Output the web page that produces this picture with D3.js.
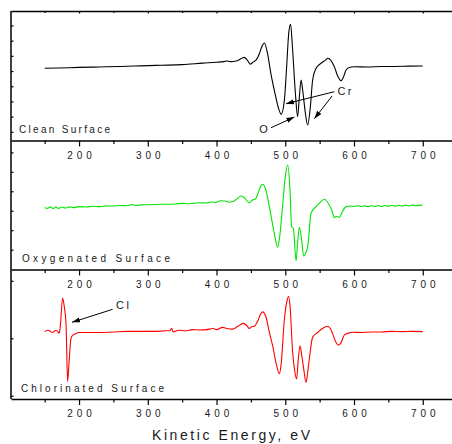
<!DOCTYPE html>
<html><head><meta charset="utf-8">
<script src="https://cdn.jsdelivr.net/npm/d3@7"></script>
<style>
body{margin:0;background:#fff}
svg{display:block}
text{font-family:"Liberation Sans",Arial,Helvetica,sans-serif;fill:#1a1a1a}
</style>
</head><body><div id="chart"></div>
<script>
// ---------- DATA ----------
const panelNames = ["Clean Surface", "Oxygenated Surface", "Chlorinated Surface"];
const seriesColors = ["#000000", "#00e600", "#ff0000"];
const xTickLabels = [200, 300, 400, 500, 600, 700];
const xMinorTicks = [150, 250, 350, 450, 550, 650, 750];
const xTitle = "Kinetic Energy, eV";

// Clean surface (black)
const energyClean = [150,170,200,230,260,290,320,350,380,400,410,415,420,430,436,440,445,449,453,458,462,466,469.6,474,479,484,491,494,498.7,502,505,507.7,510.7,514.7,518,520.5,523,525.3,529.2,532.6,536.5,539.8,544.8,552,558,562,566,571.4,576,581,585,588.4,594,600,620,640,660,680,700];
const intensityClean = [0.18,0.20,0.24,0.27,0.30,0.34,0.38,0.42,0.52,0.58,0.62,0.66,0.62,0.68,0.82,0.90,0.70,0.45,0.58,0.75,1.10,1.62,1.84,1.20,-0.15,-1.25,-2.57,-2.85,-1.91,0.28,2.48,3.07,1.38,-1.45,-3.00,-1.69,-0.59,-1.25,-2.76,-3.55,-2.35,-0.59,0.18,0.51,0.70,0.84,0.72,0.28,-0.30,-0.64,-0.35,0.07,0.25,0.28,0.27,0.30,0.30,0.32,0.33];

// Oxygenated surface (green)
const energyOxy = [150,154,158,162,166,170,175,180,186,192,200,210,220,230,240,250,260,270,278,282,290,300,320,340,350,360,375,385,392,398,406,412,418,424,430,435.6,440,447.7,452,456,460,464,467,471,476.8,484,489,492,496,500,503.5,506.9,509.3,511.8,515.7,518,520.5,523.8,526.8,532.6,537.5,544.8,550,556.9,564,568,571.4,574,576.2,578.7,583,588.4,595,600,605,610,615,620,625,630,635,640,645,650,655,660,665,670,675,680,685,690,695,700];
const intensityOxy = [0.17,0.12,0.20,0.11,0.19,0.12,0.19,0.14,0.20,0.16,0.21,0.19,0.23,0.21,0.25,0.24,0.27,0.26,0.32,0.26,0.30,0.31,0.33,0.35,0.38,0.36,0.41,0.40,0.45,0.42,0.51,0.50,0.44,0.47,0.62,0.76,0.68,0.41,0.55,0.59,0.85,1.25,1.36,1.15,0.21,-1.16,-1.88,-1.30,0.21,1.75,2.35,1.06,-0.82,-0.90,-2.57,-1.60,-0.85,-1.51,-2.33,-1.85,-0.13,0.21,0.40,0.59,0.29,0.00,-0.36,-0.28,-0.31,-0.34,-0.05,0.21,0.24,0.22,0.26,0.22,0.25,0.21,0.26,0.22,0.27,0.22,0.27,0.23,0.28,0.23,0.28,0.24,0.29,0.25,0.29,0.26,0.29,0.28];

// Chlorinated surface (red)
const energyCl = [150,154,157,161.5,165,167.4,171.3,173,176.1,178.5,181,183.4,185,188.3,190.6,195,200,215,230,250,270,290,310,326,332,334.7,337,345,355,365,375,385,395,400,409,415,423.5,430,439,444,447.7,451,455,460,464,467,472,476,481.6,487,491.4,494,498.7,502,504.9,507,510.7,513.5,516.6,519,521.5,524,527,530.2,532.5,535,539.8,547.1,554,561.7,566,569,573,577.3,581,586,592,598,610,625,640,655,670,685,700];
const intensityCl = [0.115,0.14,0.13,0.097,0.13,0.135,0.087,0.25,0.70,0.55,0.26,-0.755,-0.50,0.00,0.05,0.08,0.10,0.10,0.10,0.11,0.12,0.12,0.12,0.13,0.13,0.175,0.11,0.14,0.13,0.15,0.145,0.15,0.17,0.15,0.19,0.17,0.16,0.20,0.26,0.22,0.17,0.20,0.21,0.30,0.42,0.46,0.37,0.15,-0.13,-0.45,-0.62,-0.45,0.33,0.62,0.73,0.55,-0.24,-0.55,-0.71,-0.35,-0.13,-0.30,-0.55,-0.77,-0.60,-0.36,0.02,0.10,0.17,0.21,0.16,0.076,-0.05,-0.117,-0.08,0.06,0.09,0.104,0.10,0.11,0.11,0.12,0.115,0.12,0.115];

// y-domains (arbitrary units) and left tick values per panel
const yDomains = [[-4.57, 3.95], [-3.02, 3.61], [-1.057, 1.197]];
const yTicks = [[-4,-3,-2,-1,0,1,2,3], [-2,-1,0,1,2,3], [-1,0,1]];

// annotations (data coordinates) : panel, label, text position, arrows
const annotLabels = [
  {panel:0, text:"Cr", e:575.8, v:-1.58, len:14},
  {panel:0, text:"O",  e:462.3, v:-4.05, len:8},
  {panel:2, text:"Cl", e:253.8, v:0.504, len:13}
];
const annotArrows = [
  {panel:0, e0:571.4, v0:-1.36, e1:501.1, v1:-2.15},
  {panel:0, e0:568.1, v0:-1.64, e1:542.3, v1:-3.14},
  {panel:0, e0:479.3, v0:-3.73, e1:513.2, v1:-3.03},
  {panel:2, e0:248.8, v0:0.504, e1:189.8, v1:0.278}
];

// ---------- LAYOUT ----------
const W = 452, H = 444;
const left = 11;
const panelTops = [11, 140.5, 269.5];
const panelBottoms = [140.5, 269.5, 399];

const svg = d3.select("#chart").append("svg").attr("width", W).attr("height", H);

const x = d3.scaleLinear().domain([101, 750]).range([left, left + 649 * 0.6874]);

const defs = svg.append("defs");
defs.append("marker").attr("id","ah").attr("markerUnits","userSpaceOnUse")
  .attr("markerWidth",10).attr("markerHeight",8).attr("refX",8).attr("refY",3)
  .attr("orient","auto").append("path").attr("d","M0,0.4 L8,3 L0,5.6 Z").attr("fill","#000");

const seriesE = [energyClean, energyOxy, energyCl];
const seriesV = [intensityClean, intensityOxy, intensityCl];
const yScales = panelTops.map((t,i) => d3.scaleLinear().domain(yDomains[i]).range([panelBottoms[i], t]));

// curves
seriesE.forEach((es, i) => {
  const pts = es.map((e, j) => [e, seriesV[i][j]]);
  const line = d3.line().x(d => x(d[0])).y(d => yScales[i](d[1])).curve(d3.curveMonotoneX);
  svg.append("path").datum(pts).attr("d", line)
    .attr("fill","none").attr("stroke", seriesColors[i]).attr("stroke-width", 1.1)
    .attr("stroke-linejoin","round");
});

// horizontal axes: top line and panel bottoms
const axisYs = [panelTops[0], ...panelBottoms];
axisYs.forEach((yy, k) => {
  const g = svg.append("g").attr("transform", `translate(0,${yy})`);
  const isTop = k === 0;
  const minor = d3.axisBottom(x).tickValues(xMinorTicks).tickSize(isTop ? 2 : 3.5).tickSizeOuter(0).tickFormat("");
  const major = d3.axisBottom(x).tickValues(xTickLabels).tickSize(isTop ? 2.5 : 6).tickSizeOuter(0);
  const gm = g.append("g").call(minor);
  gm.select(".domain").remove();
  gm.selectAll("line").attr("stroke","#000").attr("stroke-width",1.2);
  const gM = g.append("g").call(major);
  gM.select(".domain").attr("stroke","#000").attr("stroke-width",1.5);
  gM.selectAll("line").attr("stroke","#000").attr("stroke-width",1.2);
  const txt = gM.selectAll("text");
  if (isTop) txt.remove();
  else txt.attr("y", 18).attr("dy", 0).attr("font-size", 10)
      .attr("font-family", '"Liberation Sans", Arial, sans-serif').attr("fill","#1a1a1a")
      .attr("textLength", 24.5).attr("lengthAdjust","spacing");
});

// left axis line & inward ticks
svg.append("line").attr("x1", left).attr("x2", left).attr("y1", panelTops[0]).attr("y2", panelBottoms[2])
  .attr("stroke","#000").attr("stroke-width",1.5);
yScales.forEach((ys, i) => {
  const g = svg.append("g").attr("transform", `translate(${left},0)`)
    .call(d3.axisRight(ys).tickValues(yTicks[i]).tickSize(2.5).tickSizeOuter(0).tickFormat(""));
  g.select(".domain").remove();
  g.selectAll("line").attr("stroke","#000").attr("stroke-width",1.2);
});

// panel names
const nameLens = [91, 148, 143];
const nameX = [19, 22, 21];
const nameBase = [133, 262, 392];
panelNames.forEach((n, i) => {
  svg.append("text").attr("x", nameX[i]).attr("y", nameBase[i]).attr("font-size", 10)
    .attr("textLength", nameLens[i]).attr("lengthAdjust","spacing").text(n);
});

// annotations
annotArrows.forEach(a => {
  const ys = yScales[a.panel];
  svg.append("line").attr("x1", x(a.e0)).attr("y1", ys(a.v0)).attr("x2", x(a.e1)).attr("y2", ys(a.v1))
    .attr("stroke","#000").attr("stroke-width",1).attr("marker-end","url(#ah)");
});
annotLabels.forEach(a => {
  const ys = yScales[a.panel];
  svg.append("text").attr("x", x(a.e)).attr("y", ys(a.v)).attr("font-size", 11)
    .attr("textLength", a.len).attr("lengthAdjust","spacing").text(a.text);
});

// x-axis title
svg.append("text").attr("x", 231).attr("y", 440).attr("text-anchor","middle").attr("font-size", 14)
  .attr("textLength", 158).attr("lengthAdjust","spacing").text(xTitle);
</script>
</body></html>
